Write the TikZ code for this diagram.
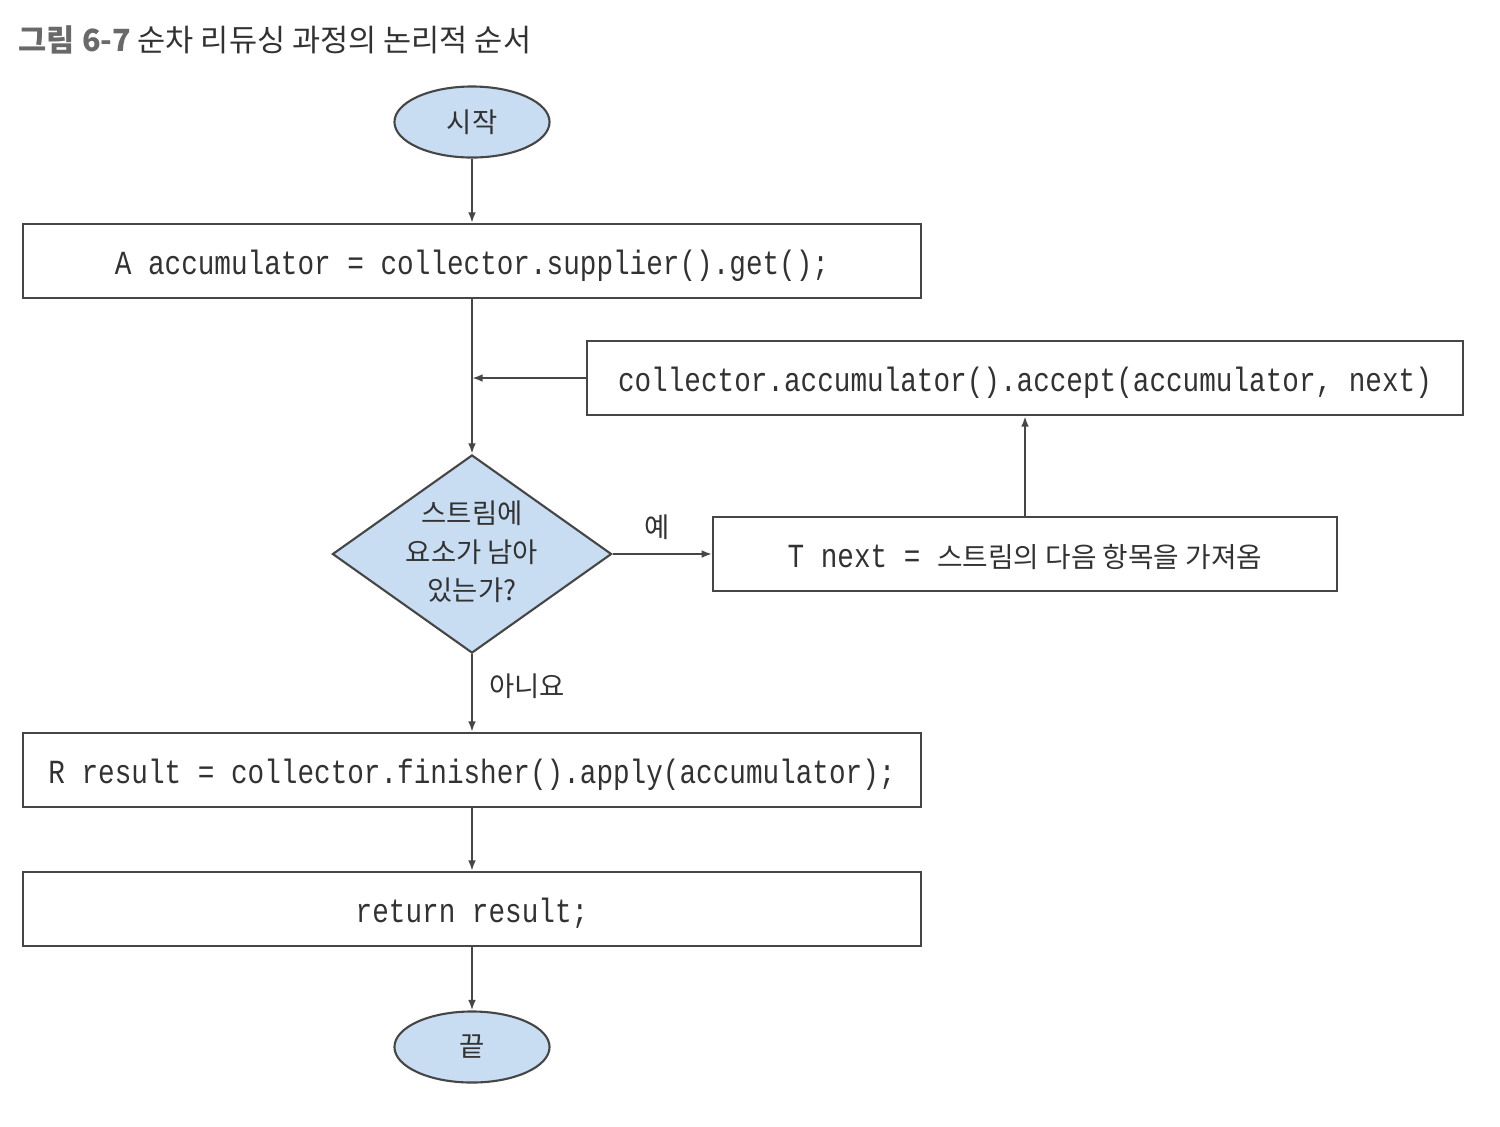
\documentclass[tikz,border=0pt]{standalone}
\usepackage{fontspec}
\setmainfont{Noto Sans CJK KR}
\newfontfamily\codefont[FakeStretch=0.82]{Liberation Mono}
\newfontfamily\kr{Noto Sans CJK KR}
\usetikzlibrary{shapes.geometric,arrows.meta}
\definecolor{shapefill}{RGB}{200,221,242}
\definecolor{edge}{RGB}{70,70,70}
\definecolor{ink}{RGB}{50,50,50}
\definecolor{titlegray}{RGB}{105,105,105}
\tikzset{
  codebox/.style={draw=edge, line width=0.6pt, rectangle, minimum height=0.74cm,
    inner sep=0pt, text height=8pt, text depth=0.5pt, text=ink,
    font=\codefont\fontsize{9.6}{11}\selectfont},
  terminal/.style={draw=edge, line width=0.6pt, ellipse, fill=shapefill,
    minimum width=1.55cm, minimum height=0.71cm, inner sep=0pt, text=ink,
    font=\fontsize{7.8}{9}\selectfont},
  decision/.style={draw=edge, line width=0.6pt, diamond, fill=shapefill,
    minimum width=2.79cm, minimum height=1.98cm, inner sep=0pt},
  lbl/.style={text=ink, font=\fontsize{7.8}{9}\selectfont, inner sep=0pt},
  arr/.style={draw=edge, line width=0.6pt, -{Latex[length=3pt,width=2.2pt]}}
}
\begin{document}
\begin{tikzpicture}[x=0.01cm, y=-0.01cm]
\useasboundingbox (0,0) rectangle (1500,1126);

% caption
\node[anchor=west, inner sep=0pt, text=ink, font=\fontsize{8.7}{10}\selectfont] (title) at (18,40)
  {{\bfseries\color{titlegray}그림 6-7} 순차 리듀싱 과정의 논리적 순서};

% flow nodes
\node[terminal] (start) at (472,122) {시작};
\node[codebox, minimum width=8.97cm] (init) at (472,261)
  {A accumulator = collector.supplier().get();};
\node[codebox, minimum width=8.76cm] (acc) at (1025,378)
  {collector.accumulator().accept(accumulator, next)};
\node[decision] (dec) at (472,554) {};
\node[lbl, align=center, font=\fontsize{7.8}{11}\selectfont] (dectext) at (472,552)
  {스트림에\\요소가 남아\\있는가?};
\node[codebox, minimum width=6.23cm] (next) at (1025,554)
  {T next = {\kr\fontsize{7.9}{9}\selectfont 스트림의 다음 항목을 가져옴}};
\node[codebox, minimum width=8.97cm] (res) at (472,770)
  {R result = collector.finisher().apply(accumulator);};
\node[codebox, minimum width=8.97cm] (ret) at (472,909)
  {return result;};
\node[terminal] (stop) at (472,1047) {끝};

% branch labels
\node[lbl] (yes) at (657,527) {예};
\node[lbl] (no) at (527,686) {아니요};

% connectors
\draw[arr] (start) -- (init);
\draw[arr] (init) -- (dec);
\draw[arr] (acc.west) -- (acc.west -| init.south);
\draw[arr] (dec.east) -- (next.west);
\draw[arr] (next.north) -- (acc.south);
\draw[arr] (dec.south) -- (res.north);
\draw[arr] (res) -- (ret);
\draw[arr] (ret) -- (stop);
\end{tikzpicture}
\end{document}
